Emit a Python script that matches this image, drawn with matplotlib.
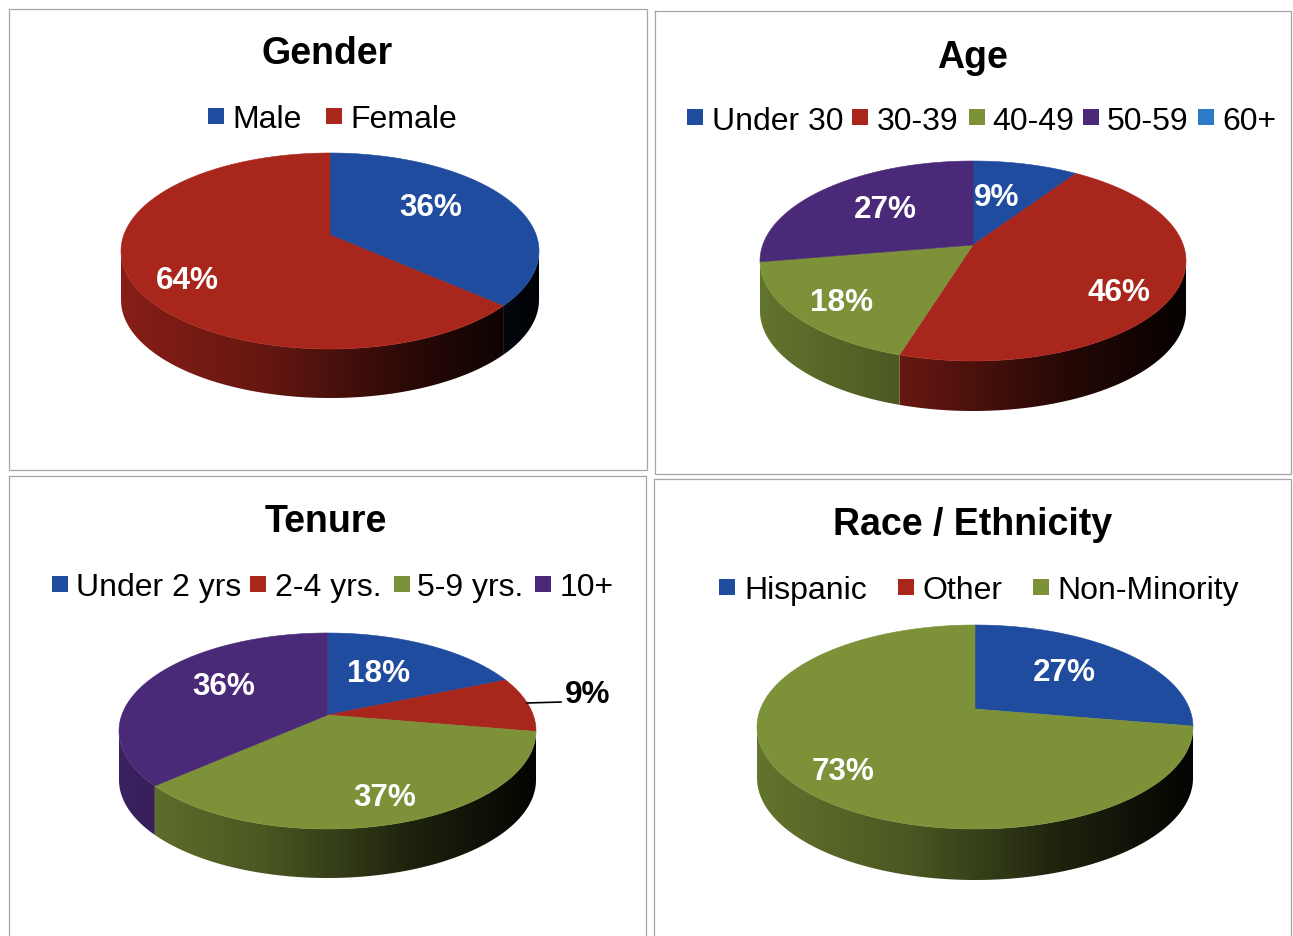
import numpy as np
import matplotlib
matplotlib.use('Agg')
import matplotlib.pyplot as plt
from matplotlib.patches import Polygon

plt.rcParams['font.family'] = ['Liberation Sans', 'DejaVu Sans']

# data
gender_labels = ['Male', 'Female']
gender_values = [36, 64]
age_labels = ['Under 30', '30-39', '40-49', '50-59', '60+']
age_values = [9, 46, 18, 27, 0]
tenure_labels = ['Under 2 yrs', '2-4 yrs.', '5-9 yrs.', '10+']
tenure_values = [18, 9, 37, 36]
race_labels = ['Hispanic', 'Other', 'Non-Minority']
race_values = [27, 0, 73]

blue, red, olive, purple, sky = '#204ca0', '#a9261c', '#7c9138', '#4a2a78', '#2a7cc8'
four_colors = [blue, red, olive, purple]
age_colors = [blue, red, olive, purple, sky]
race_colors = [blue, red, olive]

W, H = 1293, 937
fig = plt.figure(figsize=(W / 100, H / 100), dpi=100)
ax = fig.add_axes([0, 0, 1, 1])


def warp(theta):
    return theta + np.radians(2.5) * np.sin(theta)


def rim(theta, k):
    # clockwise from 12 o'clock, back of the disc is further away
    t = warp(theta)
    x, y = np.sin(t), np.cos(t)
    s = 1 / (1 + k * y)
    return x * s, y * s


def pie3d(values, colors, cx, cy, half, back, front, depth):
    k = (front - back) / (front + back)
    a = back * (1 + k)
    b = half * np.sqrt(1 - k ** 2)
    edges = np.cumsum([0] + list(values)) / sum(values) * 2 * np.pi
    pos = np.linspace(-1, 1, 300)
    shade = np.interp(pos, [-1, -0.3, 0.4, 1], [0.8, 0.6, 0.24, 0.03])
    for v, c, t0, t1 in zip(values, colors, edges[:-1], edges[1:]):
        if v == 0:
            continue
        base = np.array(matplotlib.colors.to_rgb(c))
        th = np.linspace(t0, t1, 300)
        x, y = rim(th, k)
        # wall only between the left and right extremes of the ellipse
        keep = np.cos(warp(th)) < -k
        if keep.any():
            px = cx + b * x[keep]
            py = cy - a * y[keep]
            poly = np.c_[np.r_[px, px[::-1]], np.r_[py, py[::-1] + depth]]
            img = (shade[:, None] * base)[None, :, :]
            im = ax.imshow(img, extent=(cx - half, cx + half, cy + 200, cy - 200),
                           aspect='auto', zorder=2, interpolation='bilinear')
            patch = Polygon(poly, closed=True, transform=ax.transData)
            im.set_clip_path(patch)
        ax.fill(np.r_[cx, cx + b * x], np.r_[cy, cy - a * y], color=c, lw=0.4, zorder=3)


def legend(labels, colors, box_x, text_x, y):
    for lab, c, bx, tx in zip(labels, colors, box_x, text_x):
        ax.fill([bx - 8, bx + 8, bx + 8, bx - 8], [y - 8, y - 8, y + 8, y + 8], color=c, lw=0, zorder=3)
        ax.text(tx, y, lab, fontsize=23, color='black', va='center_baseline', ha='left', zorder=4)


def title(s, x, y):
    ax.text(x, y, s, fontsize=27, fontweight='bold', ha='center', va='center_baseline', zorder=4)


def pct(values, spots, color='white'):
    for v, spot in zip([v for v in values if v > 0], spots):
        tc = color
        if len(spot) == 3:
            tc = spot[2]
        ax.text(spot[0], spot[1], f'{v}%', fontsize=22.7, fontweight='bold', color=tc,
                ha='center', va='center_baseline', zorder=5)


# panel frames
for x0, y0, x1, y1 in [(9, 10, 647, 471), (655, 12, 1291, 475), (9, 477, 646, 945), (654, 480, 1291, 945)]:
    ax.plot([x0, x1, x1, x0, x0], [y0, y0, y1, y1, y0], color='#a5a5a5', lw=0.9, zorder=1)

title('Gender', 327, 50)
legend(gender_labels, [blue, red], [216, 334], [232, 350], 117)
pie3d(gender_values, [blue, red], 330, 236, 209, 82, 114, 49)
pct(gender_values, [(431, 204), (187, 278)])

title('Age', 973, 54)
legend(age_labels, age_colors, [695, 860, 977, 1091, 1206], [712, 877, 992, 1107, 1222], 118)
pie3d(age_values, age_colors, 973, 246, 213, 84, 116, 50)
pct(age_values, [(997, 194), (1119, 290), (842, 300), (885, 206)])

title('Tenure', 326, 518)
legend(tenure_labels, four_colors, [60, 258, 402, 543], [76, 275, 417, 560], 585)
pie3d(tenure_values, four_colors, 327.5, 716, 208.5, 82, 114, 49)
pct(tenure_values, [(379, 671), (588, 692, 'black'), (385, 795), (224, 684)])
ax.plot([527, 561], [704, 703], color='black', lw=1.2, zorder=5)

title('Race / Ethnicity', 973, 521)
legend(race_labels, race_colors, [727, 906, 1041], [744, 922, 1057], 588)
pie3d(race_values, race_colors, 975, 710, 218, 84, 120, 51)
pct(race_values, [(1064, 670), (843, 769)])

ax.set_xlim(0, W)
ax.set_ylim(H, 0)
ax.axis('off')

fig.savefig('out.png', dpi=100, facecolor='white')
